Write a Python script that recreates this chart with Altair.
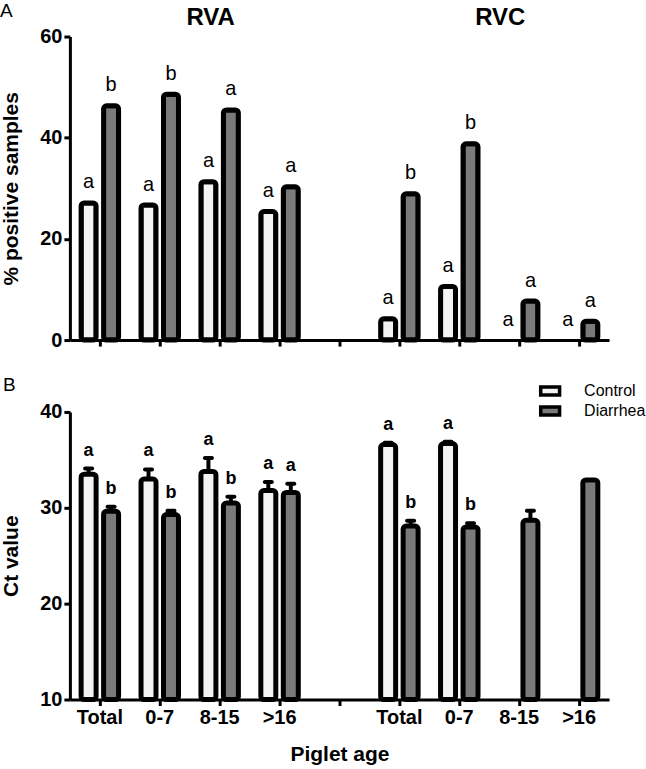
import altair as alt
import pandas as pd

# ---- data -------------------------------------------------------------
ages = ["Total", "0-7", "8-15", ">16"]
viruses = ["RVA", "RVC"]
conditions = ["Control", "Diarrhea"]

# A: % positive samples (RVA ages then RVC ages)
pos_control = [27.1, 26.7, 31.3, 25.4, 4.2, 10.6, 0.0, 0.0]
pos_diarrhea = [46.3, 48.6, 45.5, 30.3, 28.9, 38.8, 7.7, 3.7]
pos_letter_control = ["a", "a", "a", "a", "a", "a", "a", "a"]
pos_letter_diarrhea = ["b", "b", "a", "a", "b", "b", "a", "a"]

# B: Ct values, mean and SEM (None = no positive sample)
ct_control = [33.5, 33.0, 33.8, 31.8, 36.6, 36.7, None, None]
ct_control_sem = [0.6, 1.0, 1.4, 0.9, 0.2, 0.2, None, None]
ct_diarrhea = [29.65, 29.3, 30.5, 31.6, 28.1, 28.0, 28.7, 32.9]
ct_diarrhea_sem = [0.45, 0.4, 0.65, 0.9, 0.55, 0.4, 1.0, 0.0]
ct_letter_control = ["a", "a", "a", "a", "a", "a", "", ""]
ct_letter_diarrhea = ["b", "b", "b", "a", "b", "b", "", ""]

# ---- tables -------------------------------------------------------------
slot_keys = [f"{v}|{a}" for v in viruses for a in ages]
slots = slot_keys[:4] + ["gap"] + slot_keys[4:]

rows_a = []
for i, key in enumerate(slot_keys):
    rows_a.append(dict(slot=key, cond="Control", value=pos_control[i], letter=pos_letter_control[i]))
    rows_a.append(dict(slot=key, cond="Diarrhea", value=pos_diarrhea[i], letter=pos_letter_diarrhea[i]))
df_a = pd.DataFrame(rows_a)

rows_b = []
for i, key in enumerate(slot_keys):
    if ct_control[i] is not None:
        rows_b.append(dict(slot=key, cond="Control", value=ct_control[i], err=ct_control_sem[i], letter=ct_letter_control[i]))
    rows_b.append(dict(slot=key, cond="Diarrhea", value=ct_diarrhea[i], err=ct_diarrhea_sem[i], letter=ct_letter_diarrhea[i]))
df_b = pd.DataFrame(rows_b)

FONT = "Liberation Sans"
fills = ["#f3f3f3", "#7a7a7a"]

x_scale = alt.Scale(domain=slots, paddingInner=0, paddingOuter=0)
off_scale = alt.Scale(domain=conditions, paddingInner=0, paddingOuter=0.333)
fill_scale = alt.Scale(domain=conditions, range=fills)

x_top = alt.X("slot:N", scale=x_scale, title=None,
              axis=alt.Axis(labels=False, domainWidth=3, domainColor="black",
                            tickWidth=3, tickSize=6, tickColor="black"))
x_bottom = alt.X("slot:N", scale=x_scale, title="Piglet age",
                 axis=alt.Axis(labelExpr="indexof(datum.label, '|') >= 0 ? split(datum.label, '|')[1] : ''",
                               labelAngle=0, labelFont=FONT, labelFontSize=20, labelFontWeight="bold",
                               labelColor="black", labelPadding=2,
                               domainWidth=3, domainColor="black", tickWidth=3, tickSize=6,
                               tickColor="black", titleFont=FONT, titleFontSize=21,
                               titleFontWeight="bold", titleColor="black", titlePadding=16))
xoff = alt.XOffset("cond:N", scale=off_scale)


def y_axis(title, values):
    return alt.Axis(values=values, grid=False, labelFont=FONT, labelFontSize=20,
                    labelFontWeight="bold", labelColor="black", labelPadding=2,
                    domainWidth=3, domainColor="black", tickWidth=3, tickSize=6,
                    tickColor="black", title=title, titleFont=FONT, titleFontSize=21,
                    titleFontWeight="bold", titleColor="black", titlePadding=18)


def label(text, x, y, size, weight="normal", align="left"):
    return alt.Chart(pd.DataFrame({"t": [text]})).mark_text(
        font=FONT, fontSize=size, fontWeight=weight, align=align,
        baseline="alphabetic", color="black"
    ).encode(text="t:N", x=alt.value(x), y=alt.value(y))


# ---- panel A ----------------------------------------------------------------
y_a = alt.Y("value:Q", scale=alt.Scale(domain=[0, 60], nice=False),
            axis=y_axis("% positive samples", [0, 20, 40, 60]))

base_a = alt.Chart(df_a).encode(x=x_top, xOffset=xoff)
bars_a = base_a.transform_filter("datum.value > 0").mark_bar(
    size=15, stroke="black", strokeWidth=5, cornerRadius=3
).encode(y=y_a, fill=alt.Fill("cond:N", scale=fill_scale, legend=None))
letters_a = base_a.mark_text(font=FONT, fontSize=20, dy=-14.5, baseline="alphabetic",
                             color="black").encode(y=y_a, text="letter:N")

panel_a = alt.layer(
    bars_a, letters_a,
    label("A", -70, -20, 19),
    label("RVA", 141, -12, 24, "bold", "center"),
    label("RVC", 431, -12, 24, "bold", "center"),
).properties(width=540, height=304)

# ---- panel B ----------------------------------------------------------------
y_b = alt.Y("value:Q", scale=alt.Scale(domain=[10, 40], nice=False, zero=False),
            axis=y_axis("Ct value", [10, 20, 30, 40]))

base_b = alt.Chart(df_b).encode(x=x_bottom, xOffset=xoff)
bars_b = base_b.mark_bar(size=15, stroke="black", strokeWidth=5, cornerRadius=3).encode(
    y=y_b, y2=alt.datum(10),
    fill=alt.Fill("cond:N", scale=fill_scale,
                  legend=alt.Legend(title=None, orient="none", legendX=473, legendY=-29,
                                    symbolType="M-2.1,-0.9H2.1V0.9H-2.1Z", symbolSize=81,
                                    symbolStrokeColor="black", symbolStrokeWidth=3.5,
                                    labelFont=FONT, labelFontSize=16, labelColor="black",
                                    labelOffset=26, rowPadding=-4.5, padding=0)),
)
err_b = base_b.transform_filter("datum.err > 0").transform_calculate(
    top="datum.value + datum.err")
stems_b = err_b.mark_rule(strokeWidth=4, color="black").encode(
    y="value:Q", y2="top:Q")
caps_b = err_b.mark_tick(size=11, thickness=4, cornerRadius=2, color="black", opacity=1).encode(
    y="top:Q")
letters_b = base_b.transform_calculate(top="datum.value + datum.err").mark_text(
    font=FONT, fontSize=18, fontWeight="bold", dy=-13, baseline="alphabetic", color="black"
).encode(y="top:Q", text="letter:N")

panel_b = alt.layer(
    bars_b, stems_b, caps_b, letters_b,
    label("B", -67, -21, 19),
).properties(width=540, height=288)

chart = alt.vconcat(panel_a, panel_b, spacing=72, bounds="flush").resolve_scale(
    fill="independent").resolve_legend(fill="independent").properties(
    padding={"left": 0, "top": 1, "right": 0, "bottom": 0}
).configure_view(stroke=None)

chart.save("out.html", embed_options={"renderer": "svg", "actions": False})
